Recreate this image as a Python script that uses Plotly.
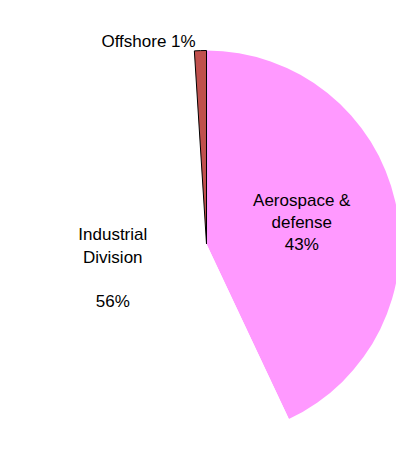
import plotly.graph_objects as go

segments = ["Aerospace & defense", "Industrial Division", "Offshore"]
shares = [43, 56, 1]
slice_colors = ["#FF99FF", "#FFFFFF", "#C0504D"]
label_texts = ["Aerospace &<br>defense<br>%{percent:.0%}", "Industrial<br>Division<br><br>%{percent:.0%}", "Offshore %{percent:.0%}"]
text_positions = ["inside", "inside", "outside"]

fig = go.Figure(go.Pie(
    labels=segments,
    values=shares,
    sort=False,
    direction="clockwise",
    rotation=0,
    marker=dict(colors=slice_colors, line=dict(color="#000000", width=[0, 0, 1])),
    texttemplate=label_texts,
    textposition=text_positions,
    insidetextorientation="horizontal",
    textfont=dict(family="Liberation Sans, Arial, sans-serif", size=17, color="#000000"),
    outsidetextfont=dict(family="Liberation Sans, Arial, sans-serif", size=17, color="#000000"),
    showlegend=False,
    hoverinfo="label+percent",
))

fig.update_layout(
    width=404,
    height=453,
    margin=dict(l=0, r=12, t=30, b=0),
    paper_bgcolor="#FFFFFF",
    plot_bgcolor="#FFFFFF",
)

fig.write_html("out.html")
